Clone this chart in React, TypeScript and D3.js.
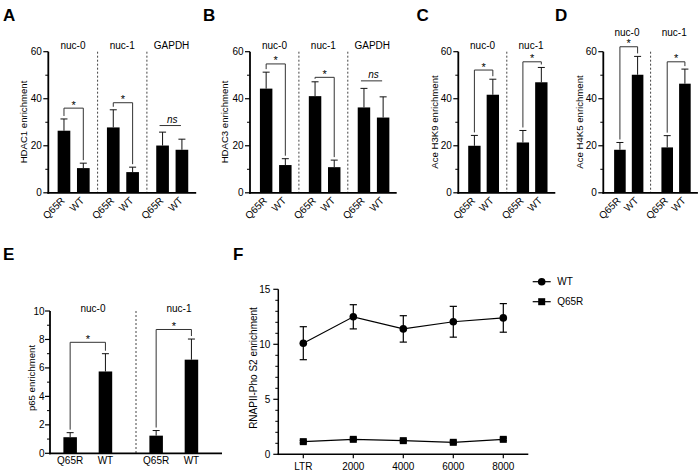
import React from "react";
import * as d3 from "d3";

const FONT = "'Liberation Sans', Arial, Helvetica, sans-serif";

// ---------- data ----------
const conditions = ["Q65R", "WT"];
const regionsThree = ["nuc-0", "nuc-1", "GAPDH"];
const regionsTwo = ["nuc-0", "nuc-1"];

const ticks60 = [0, 20, 40, 60];
const minor60 = [10, 30, 50];

// A: HDAC1 (order: nuc-0 Q65R, nuc-0 WT, nuc-1 Q65R, nuc-1 WT, GAPDH Q65R, GAPDH WT)
const hdac1Mean = [26.4, 10.5, 27.8, 8.8, 20.1, 18.3];
const hdac1Err = [5.0, 2.1, 7.5, 2.1, 5.7, 4.5];
const hdac1Bracket = [36.0, 38.3, 28.6];
const hdac1Mark = ["*", "*", "ns"];

// B: HDAC3
const hdac3Mean = [44.3, 11.8, 41.1, 10.9, 36.3, 32.0];
const hdac3Err = [7.0, 2.7, 6.1, 3.0, 8.1, 8.8];
const hdac3Bracket = [54.8, 49.1, 47.6];
const hdac3Mark = ["*", "*", "ns"];

// C: Ace H3K9
const h3k9Mean = [20.0, 41.7, 21.4, 47.0];
const h3k9Err = [4.4, 6.6, 5.1, 6.3];
const h3k9Bracket = [52.2, 55.7];
const h3k9Mark = ["*", "*"];

// D: Ace H4K5
const h4k5Mean = [18.3, 50.2, 19.3, 46.4];
const h4k5Err = [3.1, 7.8, 5.0, 6.2];
const h4k5Bracket = [62.1, 55.7];
const h4k5Mark = ["*", "*"];

// E: p65
const ticks10 = [0, 2, 4, 6, 8, 10];
const minor10 = [1, 3, 5, 7, 9];
const p65Mean = [1.13, 5.75, 1.24, 6.58];
const p65Err = [0.32, 1.25, 0.36, 1.45];
const p65Bracket = [7.8, 8.7];
const p65Mark = ["*", "*"];

// F: RNAPII-Pho S2
const fPositions = [0, 2000, 4000, 6000, 8000];
const fPositionLabels = ["LTR", "2000", "4000", "6000", "8000"];
const fTicksY = [0, 5, 10, 15];
const fMinorY = [1, 2, 3, 4, 6, 7, 8, 9, 11, 12, 13, 14];
const wtMean = [10.1, 12.5, 11.4, 12.05, 12.4];
const wtErr = [1.5, 1.1, 1.2, 1.4, 1.3];
const q65rMean = [1.15, 1.36, 1.24, 1.09, 1.36];
const q65rErr = [0.12, 0.12, 0.12, 0.12, 0.12];
const seriesNames = ["WT", "Q65R"];

// ---------- components ----------
type BarPanelProps = {
  letter: string;
  letterX: number;
  letterY: number;
  x0: number;
  groupWidth: number;
  yTop: number;
  yBottom: number;
  yMax: number;
  ticks: number[];
  minor: number[];
  regions: string[];
  means: number[];
  errs: number[];
  brackets: number[];
  marks: string[];
  title: string;
  titleX: number;
  titleY: number;
  groupLabelY: number;
  pi: number;
  po: number;
  align: number;
  rotated: boolean;
  tickLabelGap: number;
};

function BarPanel(p: BarPanelProps) {
  const y = d3.scaleLinear().domain([0, p.yMax]).range([p.yBottom, p.yTop]);
  const xEnd = p.x0 + p.groupWidth * p.regions.length;
  const outer = d3.scaleBand<string>().domain(p.regions).range([p.x0, xEnd]);
  const inner = d3
    .scaleBand<string>()
    .domain(conditions)
    .range([0, p.groupWidth])
    .paddingInner(p.pi)
    .paddingOuter(p.po)
    .align(p.align);
  const bw = inner.bandwidth();
  const left = (ri: number, ci: number) => (outer(p.regions[ri]) as number) + (inner(conditions[ci]) as number);
  const cx = (ri: number, ci: number) => left(ri, ci) + bw / 2;
  const capHalf = 3.5;

  return (
    <g fill="#000">
      <text x={p.letterX} y={p.letterY} fontSize={17} fontWeight="bold" fontFamily={FONT} fill="#000">
        {p.letter}
      </text>
      {/* separators */}
      {p.regions.slice(1).map((r) => (
        <line
          key={"sep" + r}
          x1={outer(r)}
          x2={outer(r)}
          y1={y(p.yMax)}
          y2={p.yBottom}
          stroke="#444"
          strokeWidth={1}
          strokeDasharray="2,2"
        />
      ))}
      {/* bars + error bars */}
      {p.regions.map((r, ri) =>
        conditions.map((c, ci) => {
          const i = ri * 2 + ci;
          const m = p.means[i];
          const e = p.errs[i];
          const x = cx(ri, ci);
          return (
            <g key={r + c}>
              <line x1={x} x2={x} y1={y(m)} y2={y(m + e)} stroke="#111" strokeWidth={1} />
              <line x1={x - capHalf} x2={x + capHalf} y1={y(m + e)} y2={y(m + e)} stroke="#111" strokeWidth={1} />
              <rect x={left(ri, ci)} y={y(m)} width={bw} height={p.yBottom - y(m)} fill="#000" />
            </g>
          );
        })
      )}
      {/* brackets */}
      {p.regions.map((r, ri) => {
        const by = y(p.brackets[ri]);
        const x1 = cx(ri, 0);
        const x2 = cx(ri, 1);
        const mark = p.marks[ri];
        if (mark === "ns") {
          return (
            <g key={"br" + r}>
              <line x1={x1 - 3} x2={x2 - 1} y1={by} y2={by} stroke="#333" strokeWidth={1} />
              <text
                x={(x1 + x2) / 2}
                y={by - 2.5}
                textAnchor="middle"
                fontSize={10}
                fontStyle="italic"
                fontFamily={FONT}
                fill="#000"
              >
                ns
              </text>
            </g>
          );
        }
        const d1 = y(p.means[ri * 2] + p.errs[ri * 2]) - 3;
        const d2 = y(p.means[ri * 2 + 1] + p.errs[ri * 2 + 1]) - 3;
        return (
          <g key={"br" + r}>
            <path
              d={`M${x1},${d1}V${by}H${x2}V${d2}`}
              fill="none"
              stroke="#333"
              strokeWidth={1}
            />
            <text
              x={(x1 + x2) / 2}
              y={by + 0.5}
              textAnchor="middle"
              fontSize={11}
              fontFamily={FONT}
              fill="#000"
            >
              *
            </text>
          </g>
        );
      })}
      {/* group labels */}
      {p.regions.map((r) => (
        <text
          key={"gl" + r}
          x={(outer(r) as number) + p.groupWidth / 2}
          y={p.groupLabelY}
          textAnchor="middle"
          fontSize={10}
          fontFamily={FONT}
          fill="#000"
        >
          {r}
        </text>
      ))}
      {/* y axis */}
      <line x1={p.x0} x2={p.x0} y1={y(p.yMax)} y2={p.yBottom + 0.9} stroke="#000" strokeWidth={1.8} />
      {p.ticks.map((t) => (
        <g key={"t" + t}>
          <line x1={p.x0 - 5} x2={p.x0} y1={y(t)} y2={y(t)} stroke="#000" strokeWidth={1.2} />
          <text
            x={p.x0 - p.tickLabelGap}
            y={y(t)}
            dy="0.35em"
            textAnchor="end"
            fontSize={10}
            fontFamily={FONT}
            fill="#000"
          >
            {t}
          </text>
        </g>
      ))}
      {p.minor.map((t) => (
        <line key={"m" + t} x1={p.x0 - 3} x2={p.x0} y1={y(t)} y2={y(t)} stroke="#000" strokeWidth={1} />
      ))}
      {/* x axis */}
      <line x1={p.x0 - 0.9} x2={xEnd} y1={p.yBottom} y2={p.yBottom} stroke="#000" strokeWidth={1.8} />
      {p.regions.map((r, ri) =>
        conditions.map((c, ci) =>
          p.rotated ? (
            <text
              key={"xl" + r + c}
              transform={`translate(${cx(ri, ci) + 1.5},${p.yBottom + 8.5}) rotate(-45)`}
              textAnchor="end"
              fontSize={10}
              fontFamily={FONT}
              fill="#000"
            >
              {c}
            </text>
          ) : (
            <text
              key={"xl" + r + c}
              x={cx(ri, ci)}
              y={p.yBottom + 10.5}
              textAnchor="middle"
              fontSize={10}
              fontFamily={FONT}
              fill="#000"
            >
              {c}
            </text>
          )
        )
      )}
      {/* y title */}
      <text
        transform={`translate(${p.titleX},${p.titleY}) rotate(-90)`}
        textAnchor="middle"
        dy="0.35em"
        fontSize={9.6}
        fontFamily={FONT}
        fill="#000"
      >
        {p.title}
      </text>
    </g>
  );
}

function LinePanel() {
  const x = d3.scaleLinear().domain([-1000, 9000]).range([278.3, 528.3]);
  const y = d3.scaleLinear().domain([0, 15]).range([454.3, 289.3]);
  const line = d3
    .line<number>()
    .x((_, i) => x(fPositions[i]))
    .y((d) => y(d));
  const cap = 3.6;
  const sq = 7;
  const renderErr = (means: number[], errs: number[], key: string) =>
    means.map((m, i) => {
      const px = x(fPositions[i]);
      return (
        <g key={key + i}>
          <line x1={px} x2={px} y1={y(m - errs[i])} y2={y(m + errs[i])} stroke="#000" strokeWidth={1.2} />
          <line x1={px - cap} x2={px + cap} y1={y(m + errs[i])} y2={y(m + errs[i])} stroke="#000" strokeWidth={1.2} />
          <line x1={px - cap} x2={px + cap} y1={y(m - errs[i])} y2={y(m - errs[i])} stroke="#000" strokeWidth={1.2} />
        </g>
      );
    });
  const legendX = 532.7;
  const legendY = [281.7, 301.7];
  return (
    <g>
      <text x={233} y={259.5} fontSize={17} fontWeight="bold" fontFamily={FONT} fill="#000">
        F
      </text>
      {/* axes */}
      <line x1={278.3} x2={278.3} y1={y(15)} y2={y(0) + 0.75} stroke="#000" strokeWidth={1.5} />
      <line x1={278.3 - 0.75} x2={528.3} y1={y(0)} y2={y(0)} stroke="#000" strokeWidth={1.5} />
      {fTicksY.map((t) => (
        <g key={"fy" + t}>
          <line x1={278.3 - 5} x2={278.3} y1={y(t)} y2={y(t)} stroke="#000" strokeWidth={1.2} />
          <text x={278.3 - 8} y={y(t)} dy="0.35em" textAnchor="end" fontSize={10} fontFamily={FONT} fill="#000">
            {t}
          </text>
        </g>
      ))}
      {fMinorY.map((t) => (
        <line key={"fm" + t} x1={278.3 - 3} x2={278.3} y1={y(t)} y2={y(t)} stroke="#000" strokeWidth={1} />
      ))}
      {fPositions.map((pos, i) => (
        <g key={"fx" + pos}>
          <line x1={x(pos)} x2={x(pos)} y1={y(0)} y2={y(0) + 4} stroke="#000" strokeWidth={1.2} />
          <text x={x(pos)} y={y(0) + 12} dy="0.35em" textAnchor="middle" fontSize={10} fontFamily={FONT} fill="#000">
            {fPositionLabels[i]}
          </text>
        </g>
      ))}
      <text
        transform={`translate(253.5,368) rotate(-90)`}
        textAnchor="middle"
        dy="0.35em"
        fontSize={10}
        fontFamily={FONT}
        fill="#000"
      >
        RNAPII-Pho S2 enrichment
      </text>
      {/* series */}
      <path d={line(wtMean) || ""} fill="none" stroke="#000" strokeWidth={1.2} />
      <path d={line(q65rMean) || ""} fill="none" stroke="#000" strokeWidth={1.2} />
      {renderErr(wtMean, wtErr, "we")}
      {renderErr(q65rMean, q65rErr, "qe")}
      {wtMean.map((m, i) => (
        <circle key={"wc" + i} cx={x(fPositions[i])} cy={y(m)} r={3.8} fill="#000" />
      ))}
      {q65rMean.map((m, i) => (
        <rect key={"qs" + i} x={x(fPositions[i]) - sq / 2} y={y(m) - sq / 2} width={sq} height={sq} fill="#000" />
      ))}
      {/* legend */}
      {seriesNames.map((s, i) => (
        <g key={"lg" + s}>
          <line x1={legendX} x2={legendX + 18} y1={legendY[i]} y2={legendY[i]} stroke="#000" strokeWidth={1.2} />
          {i === 0 ? (
            <circle cx={legendX + 9} cy={legendY[i]} r={3.8} fill="#000" />
          ) : (
            <rect x={legendX + 9 - sq / 2} y={legendY[i] - sq / 2} width={sq} height={sq} fill="#000" />
          )}
          <text x={legendX + 24.5} y={legendY[i]} dy="0.35em" fontSize={10} fontFamily={FONT} fill="#000">
            {s}
          </text>
        </g>
      ))}
    </g>
  );
}

export default function App() {
  return (
    <svg
      width={700}
      height={475}
      viewBox="0 0 700 475"
      style={{ position: "absolute", left: 0, top: 0, background: "#fff" }}
    >
      <rect width={700} height={475} fill="#fff" />
      <BarPanel
        letter="A"
        letterX={3}
        letterY={20.5}
        x0={48.3}
        groupWidth={49.3}
        yTop={51.7}
        yBottom={192.8}
        yMax={60}
        ticks={ticks60}
        minor={minor60}
        regions={regionsThree}
        means={hdac1Mean}
        errs={hdac1Err}
        brackets={hdac1Bracket}
        marks={hdac1Mark}
        title="HDAC1 enrichment"
        titleX={23.5}
        titleY={122}
        groupLabelY={49}
        pi={0.345}
        po={0.447}
        align={0.54}
        rotated={true}
        tickLabelGap={6.5}
      />
      <BarPanel
        letter="B"
        letterX={203}
        letterY={20.5}
        x0={250}
        groupWidth={48.9}
        yTop={51.7}
        yBottom={192.8}
        yMax={60}
        ticks={ticks60}
        minor={minor60}
        regions={regionsThree}
        means={hdac3Mean}
        errs={hdac3Err}
        brackets={hdac3Bracket}
        marks={hdac3Mark}
        title="HDAC3 enrichment"
        titleX={225}
        titleY={122}
        groupLabelY={49}
        pi={0.35}
        po={0.45}
        align={0.575}
        rotated={true}
        tickLabelGap={6.5}
      />
      <BarPanel
        letter="C"
        letterX={416.5}
        letterY={20.5}
        x0={458.3}
        groupWidth={48.5}
        yTop={51.7}
        yBottom={192.8}
        yMax={60}
        ticks={ticks60}
        minor={minor60}
        regions={regionsTwo}
        means={h3k9Mean}
        errs={h3k9Err}
        brackets={h3k9Bracket}
        marks={h3k9Mark}
        title="Ace H3K9 enrichment"
        titleX={435}
        titleY={122}
        groupLabelY={49}
        pi={0.33}
        po={0.48}
        align={0.56}
        rotated={true}
        tickLabelGap={6.5}
      />
      <BarPanel
        letter="D"
        letterX={555}
        letterY={20.5}
        x0={603.3}
        groupWidth={47.3}
        yTop={51.7}
        yBottom={192.8}
        yMax={60}
        ticks={ticks60}
        minor={minor60}
        regions={regionsTwo}
        means={h4k5Mean}
        errs={h4k5Err}
        brackets={h4k5Bracket}
        marks={h4k5Mark}
        title="Ace H4K5 enrichment"
        titleX={580}
        titleY={122}
        groupLabelY={36}
        pi={0.345}
        po={0.51}
        align={0.6}
        rotated={true}
        tickLabelGap={6.5}
      />
      <BarPanel
        letter="E"
        letterX={3}
        letterY={260}
        x0={50}
        groupWidth={86}
        yTop={311}
        yBottom={453.3}
        yMax={10}
        ticks={ticks10}
        minor={minor10}
        regions={regionsTwo}
        means={p65Mean}
        errs={p65Err}
        brackets={p65Bracket}
        marks={p65Mark}
        title="p65 enrichment"
        titleX={32}
        titleY={378}
        groupLabelY={312}
        pi={0.617}
        po={0.527}
        align={0.36}
        rotated={false}
        tickLabelGap={5.5}
      />
      <LinePanel />
    </svg>
  );
}
